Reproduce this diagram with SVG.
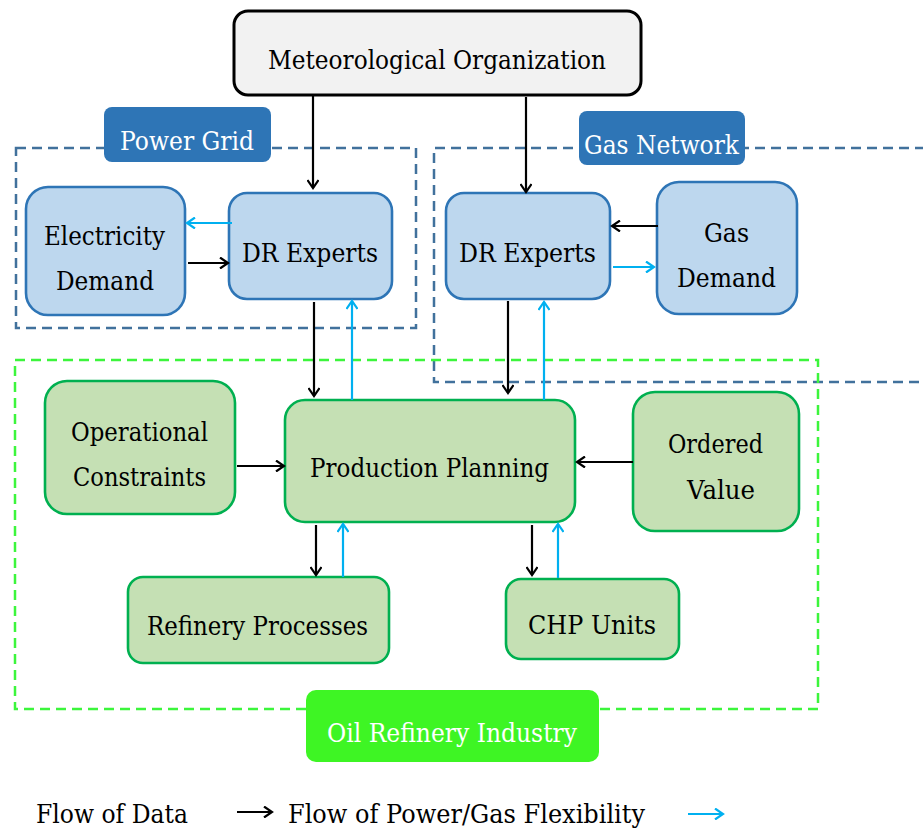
<svg xmlns="http://www.w3.org/2000/svg" width="923" height="830" viewBox="0 0 923 830">
<style>
text{font-family:'DejaVu Serif',serif;font-size:26px;fill:#000;text-anchor:middle}
.w{fill:#fff}
.s{text-anchor:start}
.bn{fill:#bdd7ee;stroke:#2e75b6;stroke-width:2.6}
.gn{fill:#c5e0b4;stroke:#00b050;stroke-width:2.6}
.dashb{fill:none;stroke:#41719c;stroke-width:2.5;stroke-dasharray:10 6}
.dashg{fill:none;stroke:#3cf53c;stroke-width:2.5;stroke-dasharray:10 6}
.k{stroke:#000;stroke-width:2.2;fill:none;marker-end:url(#ak)}
.c{stroke:#00b0f0;stroke-width:2.2;fill:none;marker-end:url(#ac)}
</style>
<defs>
<marker id="ak" viewBox="0 0 12 12" markerWidth="12" markerHeight="12" refX="10" refY="6" orient="auto" markerUnits="userSpaceOnUse"><path d="M2,0.5 L10,6 L2,11.5" fill="none" stroke="#000" stroke-width="2.2"/></marker>
<marker id="ac" viewBox="0 0 12 12" markerWidth="12" markerHeight="12" refX="10" refY="6" orient="auto" markerUnits="userSpaceOnUse"><path d="M2,0.5 L10,6 L2,11.5" fill="none" stroke="#00b0f0" stroke-width="2.2"/></marker>
</defs>
<rect width="923" height="830" fill="#fff"/>
<g id="groups">
<rect class="dashb" x="16" y="148" width="400" height="180"/>
<path class="dashb" d="M925,148 H434 V382 H925"/>
<rect class="dashg" x="15" y="360" width="803" height="349"/>
</g>
<g id="power-grid-label"><rect x="104" y="107" width="167" height="55" rx="8" fill="#2e75b6"/><text class="w" x="187" y="150" textLength="134" lengthAdjust="spacingAndGlyphs">Power Grid</text></g>
<g id="gas-network-label"><rect x="579" y="111" width="166" height="54" rx="8" fill="#2e75b6"/><text class="w" x="661.5" y="154" textLength="155" lengthAdjust="spacingAndGlyphs">Gas Network</text></g>
<g id="oil-label"><rect x="306" y="690" width="293" height="72" rx="10" fill="#3ef524"/><text class="w" x="452" y="742" textLength="250" lengthAdjust="spacingAndGlyphs">Oil Refinery Industry</text></g>
<g id="meteo"><rect x="234" y="11" width="407" height="84" rx="14" fill="#f2f2f2" stroke="#000" stroke-width="3"/><text x="437" y="69" textLength="338" lengthAdjust="spacingAndGlyphs">Meteorological Organization</text></g>
<g id="elec-demand"><rect class="bn" x="26" y="187" width="159" height="128" rx="22"/><text x="104.5" y="245" textLength="121" lengthAdjust="spacingAndGlyphs">Electricity</text><text x="105" y="290" textLength="98" lengthAdjust="spacingAndGlyphs">Demand</text></g>
<g id="dr-left"><rect class="bn" x="229" y="193" width="163" height="106" rx="18"/><text x="310" y="262" textLength="136" lengthAdjust="spacingAndGlyphs">DR Experts</text></g>
<g id="dr-right"><rect class="bn" x="446" y="193" width="164" height="106" rx="18"/><text x="527.5" y="262" textLength="137" lengthAdjust="spacingAndGlyphs">DR Experts</text></g>
<g id="gas-demand"><rect class="bn" x="657" y="182" width="140" height="132" rx="22"/><text x="726.5" y="242" textLength="45" lengthAdjust="spacingAndGlyphs">Gas</text><text x="726.5" y="287" textLength="99" lengthAdjust="spacingAndGlyphs">Demand</text></g>
<g id="op-constraints"><rect class="gn" x="45" y="381" width="190" height="133" rx="22"/><text x="139.5" y="441" textLength="137" lengthAdjust="spacingAndGlyphs">Operational</text><text x="139.5" y="486" textLength="133" lengthAdjust="spacingAndGlyphs">Constraints</text></g>
<g id="production-planning"><rect class="gn" x="285" y="400" width="290" height="122" rx="20"/><text x="429.5" y="477" textLength="239" lengthAdjust="spacingAndGlyphs">Production Planning</text></g>
<g id="ordered-value"><rect class="gn" x="633" y="392" width="166" height="139" rx="22"/><text x="715.5" y="453" textLength="95" lengthAdjust="spacingAndGlyphs">Ordered</text><text x="721" y="499" textLength="68" lengthAdjust="spacingAndGlyphs">Value</text></g>
<g id="refinery"><rect class="gn" x="128" y="577" width="261" height="86" rx="15"/><text x="257.5" y="635" textLength="221" lengthAdjust="spacingAndGlyphs">Refinery Processes</text></g>
<g id="chp"><rect class="gn" x="506" y="579" width="173" height="80" rx="15"/><text x="592" y="634" textLength="128" lengthAdjust="spacingAndGlyphs">CHP Units</text></g>
<g id="connectors">
<path class="k" d="M313,96 V188"/>
<path class="k" d="M526,97 V192"/>
<path class="c" d="M232,223 H187"/>
<path class="k" d="M188,263 H228"/>
<path class="k" d="M658,226 H612"/>
<path class="c" d="M613,267 H654"/>
<path class="k" d="M314,302 V396"/>
<path class="c" d="M352,400 V301"/>
<path class="k" d="M508,301 V393"/>
<path class="c" d="M544,400 V302"/>
<path class="k" d="M237,466 H284"/>
<path class="k" d="M633,462 H577"/>
<path class="k" d="M316,525 V575"/>
<path class="c" d="M343,577 V524"/>
<path class="k" d="M532,525 V575"/>
<path class="c" d="M558,578 V524"/>
</g>
<g id="legend">
<text class="s" x="36" y="823" textLength="152" lengthAdjust="spacingAndGlyphs">Flow of Data</text>
<path class="k" d="M237,812 H272"/>
<text class="s" x="288" y="823" textLength="357" lengthAdjust="spacingAndGlyphs">Flow of Power/Gas Flexibility</text>
<path class="c" d="M688,814 H723"/>
</g>
</svg>
